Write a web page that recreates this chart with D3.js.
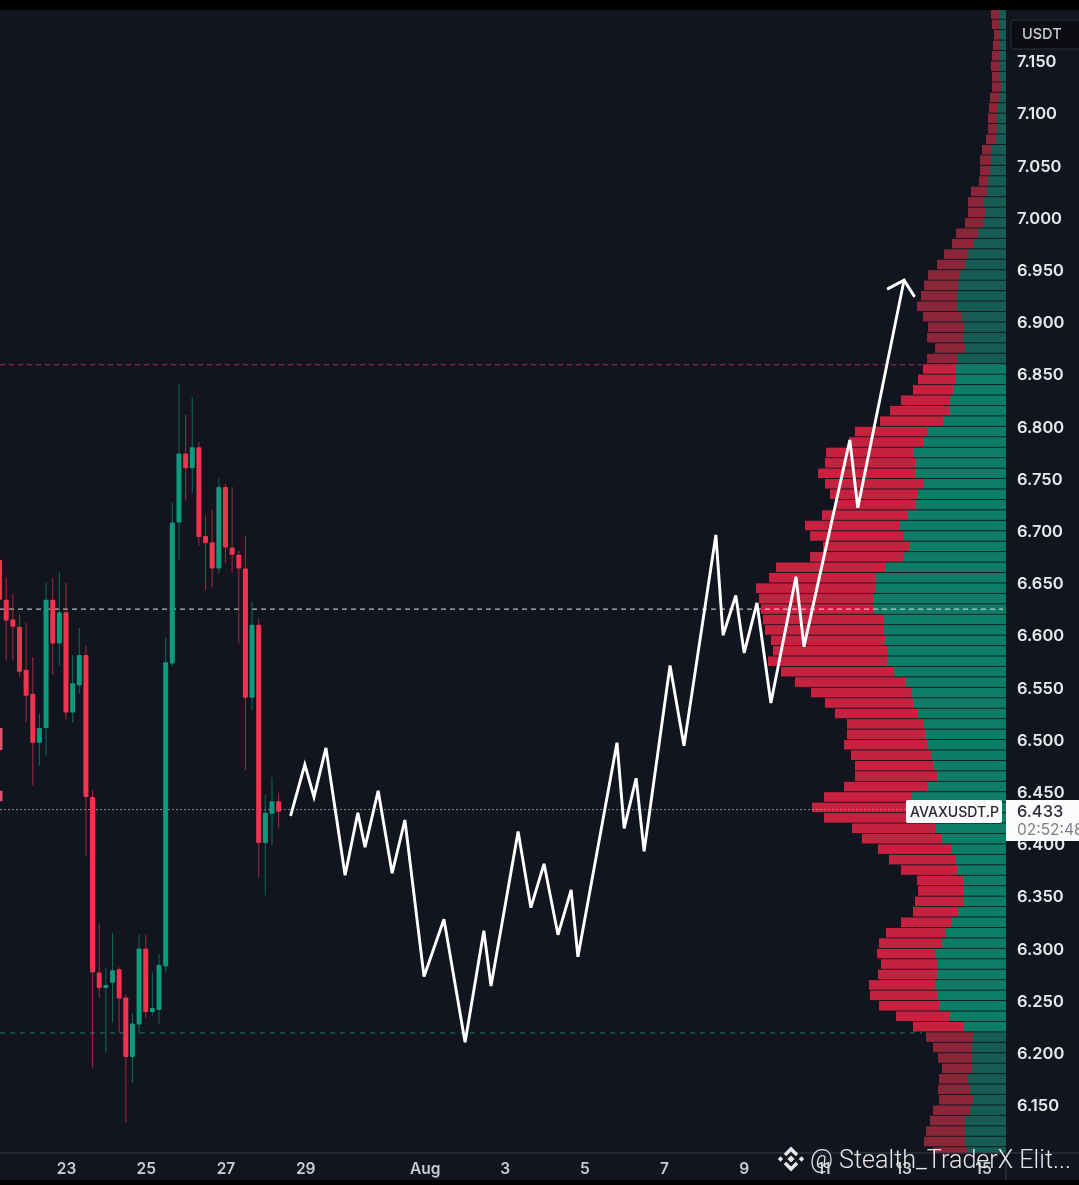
<!DOCTYPE html>
<html>
<head>
<meta charset="utf-8">
<script src="https://cdn.jsdelivr.net/npm/d3@7"></script>
<style>
html, body { margin: 0; padding: 0; background: #000; overflow: hidden; }
svg { display: block; }
</style>
</head>
<body>
<div id="chart"></div>
<script>
// Candles, 4h each, oldest first
var opens = [6.672,6.634,6.615,6.608,6.567,6.544,6.497,6.511,6.634,6.592,6.622,6.526,6.552,6.581,6.445,6.277,6.262,6.267,6.280,6.253,6.196,6.227,6.300,6.239,6.241,6.283,6.573,6.708,6.774,6.760,6.780,6.695,6.689,6.664,6.742,6.684,6.677,6.664,6.540,6.610,6.401,6.429,6.441];
var closes = [6.634,6.614,6.608,6.565,6.542,6.497,6.511,6.634,6.592,6.622,6.526,6.554,6.581,6.445,6.277,6.262,6.265,6.279,6.252,6.196,6.228,6.300,6.239,6.243,6.284,6.574,6.708,6.774,6.760,6.780,6.694,6.688,6.664,6.742,6.684,6.677,6.664,6.540,6.610,6.401,6.430,6.441,6.431];
var highs = [6.681,6.655,6.640,6.620,6.612,6.579,6.525,6.650,6.655,6.660,6.650,6.581,6.607,6.590,6.452,6.324,6.282,6.315,6.282,6.256,6.238,6.313,6.313,6.277,6.295,6.598,6.727,6.841,6.811,6.828,6.785,6.715,6.720,6.750,6.745,6.742,6.681,6.695,6.632,6.616,6.447,6.464,6.449];
var lows = [6.615,6.576,6.576,6.560,6.517,6.456,6.475,6.485,6.562,6.571,6.519,6.516,6.544,6.388,6.186,6.253,6.200,6.229,6.219,6.133,6.171,6.219,6.233,6.236,6.227,6.277,6.570,6.672,6.729,6.736,6.686,6.643,6.646,6.659,6.669,6.660,6.592,6.471,6.528,6.368,6.351,6.399,6.415];

// Volume profile rows, lower edge price of each row, top to bottom
var rowPrices = [7.19,7.18,7.17,7.16,7.15,7.14,7.13,7.12,7.11,7.10,7.09,7.08,7.07,7.06,7.05,7.04,7.03,7.02,7.01,7.00,
    6.99,6.98,6.97,6.96,6.95,6.94,6.93,6.92,6.91,6.90,6.89,6.88,6.87,6.86,6.85,6.84,6.83,6.82,6.81,6.80,
    6.79,6.78,6.77,6.76,6.75,6.74,6.73,6.72,6.71,6.70,6.69,6.68,6.67,6.66,6.65,6.64,6.63,6.62,6.61,6.60,
    6.59,6.58,6.57,6.56,6.55,6.54,6.53,6.52,6.51,6.50,6.49,6.48,6.47,6.46,6.45,6.44,6.43,6.42,6.41,6.40,
    6.39,6.38,6.37,6.36,6.35,6.34,6.33,6.32,6.31,6.30,6.29,6.28,6.27,6.26,6.25,6.24,6.23,6.22,6.21,6.20,
    6.19,6.18,6.17,6.16,6.15,6.14,6.13,6.12,6.11,6.10];
var upVolume = [7,7,6,6,6,6,6,5,7,8,9,9,10,15,15,16,18,19,22,21,
    22,28,32,38,41,46,48,49,49,44,42,43,41,49,51,51,53,56,57,63,
    79,83,93,91,90,83,88,91,99,107,102,96,103,121,131,130,132,132,123,123,
    121,118,119,112,100,95,93,88,82,81,79,74,72,69,79,94,94,94,71,64,
    54,51,49,43,43,42,48,54,60,64,71,68,69,71,69,67,56,43,33,34,
    34,34,38,36,33,36,41,41,41,38];
var downVolume = [8,7,6,7,8,9,8,9,9,9,9,9,10,9,11,10,9,16,16,17,
    19,22,22,24,28,32,34,36,40,39,36,36,30,30,32,37,40,49,59,63,
    72,74,87,90,98,98,88,80,85,94,94,87,93,109,106,120,115,113,120,118,
    114,115,119,113,111,100,88,83,77,78,83,81,79,82,83,88,100,88,83,80,
    74,66,56,46,45,49,45,51,60,63,58,57,59,66,67,60,54,50,47,39,
    34,30,29,32,34,37,35,39,41,35];
var valueAreaHigh = 6.859;
var pocPrice = 6.625;
var lastPrice = 6.433;
var valueAreaLow = 6.219;

// Hand drawn projection: days after 23 Jul, and price
var pathDays = [5.64,5.99,6.22,6.52,7.00,7.32,7.50,7.83,8.18,8.50,8.98,9.48,10.01,10.48,10.66,11.34,11.66,11.99,12.34,12.67,12.84,13.82,14.00,14.30,14.50,15.15,15.50,16.30,16.48,16.80,17.01,17.33,17.68,18.31,18.51,19.66,19.86,21.02];
var pathPrices = [6.428,6.476,6.445,6.492,6.370,6.430,6.397,6.451,6.372,6.423,6.273,6.328,6.210,6.317,6.264,6.412,6.339,6.381,6.313,6.356,6.292,6.497,6.415,6.463,6.393,6.571,6.494,6.696,6.600,6.638,6.583,6.631,6.535,6.656,6.589,6.787,6.722,6.940];
var arrowDays = [20.62,21.02,21.27];
var arrowPrices = [6.932,6.940,6.925];

// Scraps of an older drawing cut off at the left edge: top and bottom price
var scrapTops = [6.511,6.451];
var scrapBottoms = [6.490,6.441];

// Axis ticks
var priceTicks = [7.15,7.10,7.05,7.00,6.95,6.90,6.85,6.80,6.75,6.70,6.65,6.60,6.55,6.50,6.45,6.40,6.35,6.30,6.25,6.20,6.15];
var dayTicks = [0,2,4,6,9,11,13,15,17,19,21,23];
var dayLabels = ["23","25","27","29","Aug","3","5","7","9","11","13","15"];

var width = 1079, height = 1185;
var plot = { top: 10, bottom: 1153, right: 1006 };
var fontName = "Inter, Roboto, sans-serif";

var svg = d3.select("#chart").append("svg")
    .attr("width", width)
    .attr("height", height);

svg.append("rect").attr("width", width).attr("height", height).attr("fill", "#000");
svg.append("rect").attr("y", plot.top).attr("width", width).attr("height", 1180 - plot.top).attr("fill", "#12151f");

svg.append("defs").append("clipPath").attr("id", "plotclip")
    .append("rect").attr("y", plot.top).attr("width", plot.right).attr("height", plot.bottom - plot.top);

// Soft blur, the reference is a compressed screenshot
svg.select("defs").append("filter").attr("id", "soft")
    .attr("x", "-5%").attr("y", "-5%").attr("width", "110%").attr("height", "110%")
    .append("feGaussianBlur").attr("stdDeviation", 0.6);

// Scales
var day0 = Date.UTC(2024, 6, 23);
var dayMs = 24 * 3600 * 1000;
function dayDate(d) { return new Date(day0 + d * dayMs); }

var x = d3.scaleUtc().domain([dayDate(0), dayDate(23)]).range([66, 983]);
var y = d3.scaleLinear().domain([6.15, 7.15]).range([1105, 61]);
var vol = d3.scaleLinear().domain([0, 300]).range([plot.right, plot.right - 300]);

var firstCandle = -5 / 3; // 21 Jul 08:00, in days after 23 Jul
var candleDays = opens.map(function(d, i) { return firstCandle + i / 6; });

var chart = svg.append("g").attr("clip-path", "url(#plotclip)").append("g").attr("filter", "url(#soft)");

// Volume profile
var rowH = y(6.15) - y(6.16);
function inValueArea(i) { return rowPrices[i] < valueAreaHigh && rowPrices[i] >= valueAreaLow - 0.001; }

chart.append("g").selectAll("rect")
    .data(rowPrices)
    .enter().append("rect")
    .attr("x", function(d, i) { return vol(upVolume[i]); })
    .attr("y", function(d) { return y(d + 0.01) + 0.4; })
    .attr("width", function(d, i) { return vol(0) - vol(upVolume[i]); })
    .attr("height", rowH - 0.9)
    .attr("fill", function(d, i) { return inValueArea(i) ? "#0b7d66" : "#135c52"; });

chart.append("g").selectAll("rect")
    .data(rowPrices)
    .enter().append("rect")
    .attr("x", function(d, i) { return vol(upVolume[i] + downVolume[i]); })
    .attr("y", function(d) { return y(d + 0.01) + 0.4; })
    .attr("width", function(d, i) { return vol(upVolume[i]) - vol(upVolume[i] + downVolume[i]); })
    .attr("height", rowH - 0.9)
    .attr("fill", function(d, i) { return inValueArea(i) ? "#c6233f" : "#8a2638"; });

// Level lines
function level(price, x2, color, dash, op) {
    chart.append("line")
        .attr("x1", 0).attr("x2", x2)
        .attr("y1", y(price)).attr("y2", y(price))
        .attr("stroke", color)
        .attr("stroke-width", 1)
        .attr("stroke-dasharray", dash)
        .attr("opacity", op);
}
level(valueAreaHigh, 922, "#b5354a", "5 4", 0.9);
level(pocPrice, 1003, "#e2e4e6", "5 4", 1);
level(lastPrice, 906, "#8d9296", "2 2", 0.9);
level(valueAreaLow, 922, "#1f8a74", "5 5", 0.9);

// Scraps at the left edge
chart.append("g").selectAll("line")
    .data(scrapTops)
    .enter().append("line")
    .attr("x1", 1).attr("x2", 1)
    .attr("y1", function(d) { return y(d); })
    .attr("y2", function(d, i) { return y(scrapBottoms[i]); })
    .attr("stroke", "#d9566a")
    .attr("stroke-width", 3);

// Candles
function candleColor(i) { return closes[i] >= opens[i] ? "#0d9a7d" : "#f2334f"; }

chart.append("g").selectAll("line")
    .data(candleDays)
    .enter().append("line")
    .attr("x1", function(d) { return x(dayDate(d)); })
    .attr("x2", function(d) { return x(dayDate(d)); })
    .attr("y1", function(d, i) { return y(highs[i]); })
    .attr("y2", function(d, i) { return y(lows[i]); })
    .attr("stroke", function(d, i) { return candleColor(i); })
    .attr("stroke-width", 1.1)
    .attr("opacity", 0.6);

chart.append("g").selectAll("rect")
    .data(candleDays)
    .enter().append("rect")
    .attr("x", function(d) { return x(dayDate(d)) - 2.5; })
    .attr("y", function(d, i) { return y(Math.max(opens[i], closes[i])); })
    .attr("width", 5)
    .attr("height", function(d, i) { return Math.max(2, Math.abs(y(opens[i]) - y(closes[i]))); })
    .attr("rx", 1)
    .attr("fill", function(d, i) { return candleColor(i); });

// Projection path with arrow head
var pathLine = d3.line()
    .x(function(d) { return x(dayDate(d[0])); })
    .y(function(d) { return y(d[1]); });

chart.append("path")
    .datum(pathDays.map(function(d, i) { return [d, pathPrices[i]]; }))
    .attr("d", pathLine)
    .attr("fill", "none")
    .attr("stroke", "#fff")
    .attr("stroke-width", 2.9)
    .attr("stroke-linejoin", "miter")
    .attr("stroke-linecap", "round");

chart.append("path")
    .datum(arrowDays.map(function(d, i) { return [d, arrowPrices[i]]; }))
    .attr("d", pathLine)
    .attr("fill", "none")
    .attr("stroke", "#fff")
    .attr("stroke-width", 2.9)
    .attr("stroke-linecap", "round");

// Price axis
var yAxis = svg.append("g")
    .attr("transform", "translate(1017,0.5)")
    .attr("filter", "url(#soft)")
    .call(d3.axisRight(y).tickValues(priceTicks).tickFormat(d3.format(".3f")).tickSize(0).tickPadding(0));
yAxis.select(".domain").remove();
yAxis.selectAll("text")
    .attr("fill", "#e6e8ea")
    .style("font-family", fontName)
    .style("font-size", "16.5px")
    .style("font-weight", 600);

// Time axis
svg.append("line").attr("x1", 0).attr("x2", width).attr("y1", plot.bottom).attr("y2", plot.bottom)
    .attr("stroke", "#3a3d47").attr("stroke-width", 1);
svg.append("line").attr("x1", plot.right).attr("x2", plot.right).attr("y1", plot.bottom).attr("y2", 1180)
    .attr("stroke", "#3a3d47").attr("stroke-width", 1);

var xAxis = svg.append("g")
    .attr("transform", "translate(0,1157)")
    .attr("filter", "url(#soft)")
    .call(d3.axisBottom(x)
        .tickValues(dayTicks.map(dayDate))
        .tickFormat(function(d, i) { return dayLabels[i]; })
        .tickSize(0).tickPadding(6));
xAxis.select(".domain").remove();
xAxis.selectAll("text")
    .attr("fill", "#c9ccd0")
    .style("font-family", fontName)
    .style("font-size", "15.5px")
    .style("font-weight", 600);

// USDT button
svg.append("rect").attr("x", 1011).attr("y", 20).attr("width", 72).attr("height", 29).attr("rx", 3)
    .attr("fill", "#0b0d12").attr("stroke", "#2c2f38");
svg.append("text").attr("x", 1022).attr("y", 39).text("USDT")
    .attr("fill", "#c8cbd0")
    .attr("filter", "url(#soft)")
    .style("font-family", fontName).style("font-size", "14.5px").style("font-weight", 500);

// Last price labels
svg.append("rect").attr("x", 906).attr("y", 800).attr("width", 96).attr("height", 23).attr("rx", 2).attr("fill", "#fbfbfb");
svg.append("text").attr("x", 910).attr("y", 817).text("AVAXUSDT.P")
    .attr("fill", "#23262e").attr("textLength", 89).attr("lengthAdjust", "spacingAndGlyphs")
    .style("font-family", fontName).style("font-size", "14px").style("font-weight", 500);
svg.append("rect").attr("x", 1006).attr("y", 800).attr("width", 73).attr("height", 41).attr("fill", "#fbfbfb");
svg.append("text").attr("x", 1017).attr("y", 817).text(d3.format(".3f")(lastPrice))
    .attr("fill", "#2a2d35")
    .style("font-family", fontName).style("font-size", "16.5px").style("font-weight", 500);
svg.append("text").attr("x", 1017).attr("y", 835).text("02:52:48")
    .attr("fill", "#7d8087")
    .style("font-family", fontName).style("font-size", "15.5px");

// Watermark
var mark = svg.append("g").attr("transform", "translate(791,1159)");
mark.append("path").attr("d", "M-6,-4L0,-10L6,-4").attr("fill", "none").attr("stroke", "#e9e9e9").attr("stroke-width", 3.4);
mark.append("path").attr("d", "M-6,4L0,10L6,4").attr("fill", "none").attr("stroke", "#e9e9e9").attr("stroke-width", 3.4);
[[-10.5, 2.7], [10.5, 2.7], [0, 3.6]].forEach(function(c) {
    mark.append("path")
        .attr("fill", "#e9e9e9")
        .attr("d", "M" + c[0] + "," + (-c[1]) + "L" + (c[0] + c[1]) + ",0L" + c[0] + "," + c[1] + "L" + (c[0] - c[1]) + ",0Z");
});
svg.append("text").attr("x", 810).attr("y", 1168).text("@ Stealth_TraderX Elit...")
    .attr("fill", "#e6e6e6")
    .attr("textLength", 261).attr("lengthAdjust", "spacingAndGlyphs")
    .style("font-family", "Roboto, sans-serif").style("font-size", "25px").style("font-weight", 300);
</script>
</body>
</html>
